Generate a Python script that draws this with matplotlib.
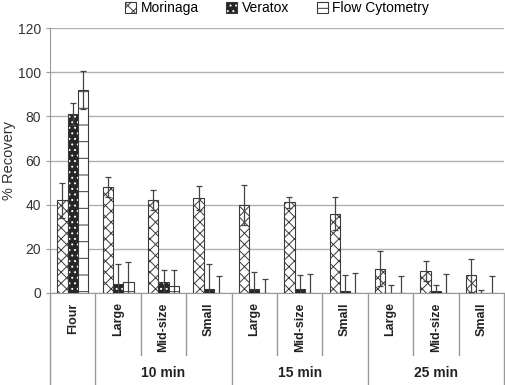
import matplotlib.pyplot as plt
import numpy as np

plt.rcParams['font.family'] = ['Liberation Sans', 'DejaVu Sans']
plt.rcParams['hatch.linewidth'] = 0.7

# data
categories = ['Flour', 'Large', 'Mid-size', 'Small', 'Large', 'Mid-size', 'Small',
              'Large', 'Mid-size', 'Small']
groups = ['10 min', '15 min', '25 min']
morinaga = [42, 48, 42, 43, 40, 41, 36, 11, 10, 8]
morinaga_err = [8, 4.5, 4.5, 5.5, 9, 2.5, 7.5, 8, 4.5, 7.5]
veratox = [81, 4, 5, 2, 2, 2, 1, 0, 1, 0]
veratox_err = [5, 9, 5.5, 11, 7.5, 6, 7, 3.5, 2.5, 1.5]
flow = [92, 5, 3, 0, 0, 0, 0, 0, 0, 0]
flow_err = [8.5, 9, 7.5, 7.5, 6.5, 8.5, 9, 7.5, 8.5, 7.5]

edge = '#3a3a3a'
fig = plt.figure(figsize=(5.06, 3.85), dpi=100)
ax = fig.add_axes([50 / 506, 1 - 293 / 385, 454 / 506, 265 / 385])

x = np.arange(len(categories))
w = 0.227
ekw = dict(ecolor='#444444', elinewidth=0.9, capsize=2.5, capthick=0.9)

m_bars = ax.bar(x - w, morinaga, w, yerr=morinaga_err, color='white', edgecolor=edge,
                hatch='xxx', linewidth=0.8, error_kw=ekw, zorder=3)
v_fill = ax.bar(x, veratox, w, color='#262626', edgecolor='white', hatch='...',
                linewidth=0, zorder=3)
v_edge = ax.bar(x, veratox, w, yerr=veratox_err, fill=False, edgecolor=edge,
                linewidth=0.8, error_kw=ekw, zorder=3)
f_bars = ax.bar(x + w, flow, w, yerr=flow_err, color='white', edgecolor=edge,
                hatch='-', linewidth=0.8, error_kw=ekw, zorder=3)

ax.set_ylim(0, 120)
ax.set_xlim(-0.5, len(categories) - 0.5)
ax.set_yticks(range(0, 121, 20))
ax.yaxis.grid(True, color='#b0b0b0', linewidth=1.0, zorder=0)
ax.set_axisbelow(True)
for s in ['top', 'right']:
    ax.spines[s].set_visible(False)
ax.spines['left'].set_color('#999999')
ax.spines['bottom'].set_color('#999999')
ax.tick_params(axis='y', length=3, color='#999999', labelsize=10, labelcolor='#333333')
ax.set_xticks([])
ax.set_ylabel('% Recovery', fontsize=10.5, color='#333333')
ax.yaxis.set_label_coords(-34 / 454, 0.5)

# multi-level category axis below the plot
trans = ax.get_xaxis_transform()
for i, lab in enumerate(categories):
    ax.text(i, -0.035, lab, rotation=90, ha='center', va='top', fontsize=9,
            fontweight='bold', color='#222222', transform=trans)
short = -62 / 265
full = -92 / 265
for i in range(len(categories) + 1):
    b = i - 0.5
    bottom = full if i in (0, 1, 4, 7, 10) else short
    ax.plot([b, b], [0, bottom], transform=trans, color='#999999', linewidth=1.0,
            clip_on=False)
for g, lab in enumerate(groups):
    ax.text(2 + 3 * g, -80 / 265, lab, ha='center', va='center', fontsize=10,
            fontweight='bold', color='#222222', transform=trans)

ax.legend([m_bars, (v_fill, v_edge), f_bars], ['Morinaga', 'Veratox', 'Flow Cytometry'],
          loc='center', bbox_to_anchor=(0.5, 1.075), ncol=3, frameon=False,
          fontsize=10, handlelength=0.8, handleheight=0.8, handletextpad=0.3,
          columnspacing=2.0)

fig.savefig('out.png', dpi=100)
